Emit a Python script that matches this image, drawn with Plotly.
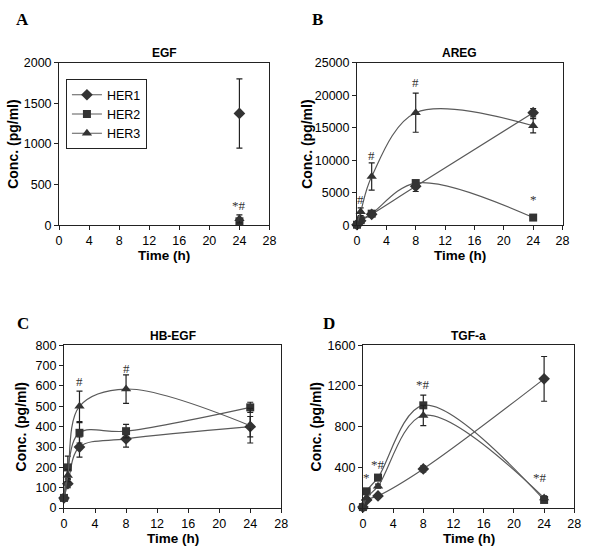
import plotly.graph_objects as go

series_names = ["HER1", "HER2", "HER3"]
symbols = ["diamond", "square", "triangle-up"]
marker_sizes = [9, 8, 9]

# Panel A: EGF (only 24 h)
a_time = [24]
a_her1 = [1375]; a_her1_err = [425]
a_her2 = [50]; a_her2_err = [20]
a_her3 = [80]; a_her3_err = [50]

# Panel B: AREG
b_time = [0, 0.5, 2, 8, 24]
b_her1 = [100, 700, 1700, 6000, 17300]; b_her1_err = [0, 0, 200, 800, 650]
b_her2 = [100, 800, 1800, 6500, 1200]; b_her2_err = [0, 0, 200, 300, 200]
b_her3 = [200, 2100, 7500, 17300, 15300]; b_her3_err = [0, 600, 2100, 3000, 1100]

# Panel C: HB-EGF
c_time = [0, 0.5, 2, 8, 24]
c_her1 = [50, 120, 300, 340, 400]; c_her1_err = [0, 20, 50, 40, 50]
c_her2 = [50, 200, 370, 378, 495]; c_her2_err = [0, 55, 50, 33, 25]
c_her3 = [50, 160, 500, 585, 405]; c_her3_err = [0, 30, 75, 70, 85]

# Panel D: TGF-a
d_time = [0, 0.5, 2, 8, 24]
d_her1 = [10, 80, 120, 385, 1270]; d_her1_err = [0, 0, 20, 30, 220]
d_her2 = [10, 165, 300, 1010, 80]; d_her2_err = [0, 0, 30, 100, 20]
d_her3 = [10, 100, 215, 910, 100]; d_her3_err = [0, 0, 20, 100, 20]

panel_titles = ["EGF", "AREG", "HB-EGF", "TGF-a"]
panel_letters = ["A", "B", "C", "D"]
y_ranges = [[0, 2000], [0, 25000], [0, 800], [0, 1600]]
y_dticks = [500, 5000, 100, 400]
x_ticks = [0, 4, 8, 12, 16, 20, 24, 28]

# significance marks: (panel, x, y, text)
sig_marks = [
    (0, 24, 250, "*#"),
    (1, 0.5, 4000, "#"), (1, 2, 10800, "#"), (1, 8, 22000, "#"), (1, 24, 4000, "*"),
    (2, 2, 622, "#"), (2, 8, 685, "#"),
    (3, 0.5, 300, "*"), (3, 2, 430, "*#"), (3, 8, 1216, "*#"), (3, 23.4, 297, "*#"),
]

panels = [
    (a_time, [(a_her1, a_her1_err), (a_her2, a_her2_err), (a_her3, a_her3_err)]),
    (b_time, [(b_her1, b_her1_err), (b_her2, b_her2_err), (b_her3, b_her3_err)]),
    (c_time, [(c_her1, c_her1_err), (c_her2, c_her2_err), (c_her3, c_her3_err)]),
    (d_time, [(d_her1, d_her1_err), (d_her2, d_her2_err), (d_her3, d_her3_err)]),
]

W, H = 600, 558
# plot-area pixel boxes (left, right, top, bottom)
boxes = [(57, 271, 57, 224), (360, 569, 57, 224), (62, 283, 347, 514), (366, 581, 347, 514)]

FONT = "Arial, Liberation Sans, sans-serif"
LINE_C = "#5a5a5a"
MARK_C = "#333333"

fig = go.Figure()
for p, (times, ser) in enumerate(panels):
    xa = "x" if p == 0 else f"x{p+1}"
    ya = "y" if p == 0 else f"y{p+1}"
    for i, (vals, errs) in enumerate(ser):
        fig.add_trace(go.Scatter(
            x=times, y=vals, name=series_names[i],
            mode="lines+markers",
            line=dict(color=LINE_C, width=1.2, shape="spline", smoothing=1.0),
            marker=dict(symbol=symbols[i], size=marker_sizes[i], color=MARK_C),
            error_y=dict(type="data", array=errs, visible=True, color="#222222",
                         thickness=1.2, width=3),
            xaxis=xa, yaxis=ya, cliponaxis=False,
            showlegend=(p == 0),
        ))

layout = dict(
    width=W, height=H, margin=dict(l=0, r=0, t=0, b=0),
    paper_bgcolor="white", plot_bgcolor="white",
    font=dict(family=FONT, color="black", size=12),
    showlegend=True,
    legend=dict(x=64 / W, y=1 - 74 / H, xanchor="left", yanchor="top",
                bordercolor="#222", borderwidth=1, bgcolor="white",
                font=dict(size=12.5, family=FONT), tracegroupgap=0,
                itemwidth=30),
)
annotations = []
for p in range(4):
    l, r, t, b = boxes[p]
    sx = "" if p == 0 else str(p + 1)
    layout[f"xaxis{sx}"] = dict(
        domain=[l / W, r / W], anchor=f"y{sx}", range=[0, 28],
        tickvals=x_ticks, ticks="outside", ticklen=4, tickwidth=1,
        tickcolor="#222", showline=True, linecolor="#222", linewidth=1,
        mirror=True, showgrid=False, zeroline=False,
        tickfont=dict(size=12.5, family=FONT),
    )
    layout[f"yaxis{sx}"] = dict(
        domain=[1 - b / H, 1 - t / H], anchor=f"x{sx}", range=y_ranges[p],
        dtick=y_dticks[p], tickformat="d", ticks="outside", ticklen=4, tickwidth=1,
        tickcolor="#222", showline=True, linecolor="#222", linewidth=1,
        mirror=True, showgrid=False, zeroline=False,
        tickfont=dict(size=12.5, family=FONT),
    )
    cx = (l + r) / 2
    # panel title
    annotations.append(dict(text=f"<b>{panel_titles[p]}</b>", x=cx / W, y=1 - (t - 10) / H,
                            xref="paper", yref="paper", showarrow=False,
                            font=dict(size=12, family=FONT), xanchor="center", yanchor="middle"))
    # x title
    annotations.append(dict(text="<b>Time (h)</b>", x=cx / W, y=1 - (b + 31) / H,
                            xref="paper", yref="paper", showarrow=False,
                            font=dict(size=13.5, family=FONT), xanchor="center", yanchor="middle"))
    # y title
    ytx = [10, 309, 18, 318][p]
    annotations.append(dict(text="<b>Conc. (pg/ml)</b>", x=ytx / W, y=1 - ((t + b) / 2) / H,
                            xref="paper", yref="paper", showarrow=False, textangle=-90,
                            font=dict(size=14, family=FONT), xanchor="center", yanchor="middle"))
    # panel letter
    lx, ly = [(20, 13), (320, 13), (20, 325), (332, 325)][p]
    annotations.append(dict(text=f"<b>{panel_letters[p]}</b>", x=lx / W, y=1 - ly / H,
                            xref="paper", yref="paper", showarrow=False,
                            font=dict(size=17, family="Liberation Serif, Times New Roman, serif"),
                            xanchor="center", yanchor="middle"))

for p, x, y, txt in sig_marks:
    sx = "" if p == 0 else str(p + 1)
    annotations.append(dict(text=txt, x=x, y=y, xref=f"x{sx}", yref=f"y{sx}",
                            showarrow=False, font=dict(size=13, family="Liberation Serif, Times New Roman, serif", color="#333"),
                            xanchor="center", yanchor="middle"))

layout["annotations"] = annotations
fig.update_layout(**layout)
fig.write_html("out.html", config={"displayModeBar": False},
               post_script="document.body.style.margin='0';document.body.style.padding='0';document.body.style.overflow='hidden';")
